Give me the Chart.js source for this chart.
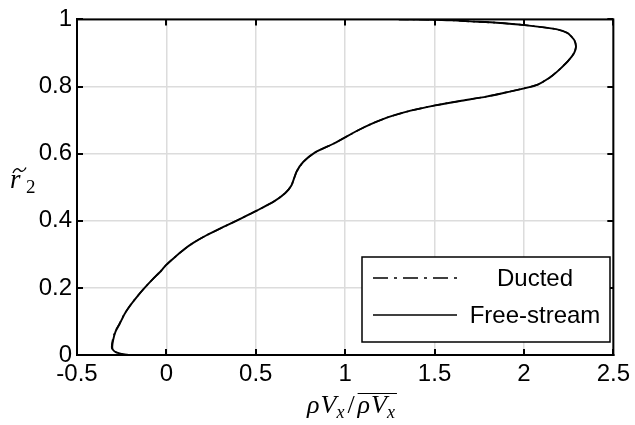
<!DOCTYPE html>
<html>
<head>
<meta charset="utf-8">
<script src="https://cdn.jsdelivr.net/npm/chart.js@4.4.0/dist/chart.umd.min.js"></script>
<style>
  html, body { margin: 0; padding: 0; background: #fff; }
</style>
</head>
<body>
<canvas id="fluxProfile" width="635" height="425"></canvas>
<script>
// normalised radius r2 (shared by both runs)
const radius = [
  0.000, 0.002, 0.008, 0.015, 0.024, 0.044, 0.069, 0.093, 0.123, 0.152,
  0.177, 0.200, 0.226, 0.251, 0.268, 0.290, 0.315, 0.334, 0.356, 0.383,
  0.408, 0.430, 0.457, 0.482, 0.506, 0.546, 0.575, 0.603, 0.631, 0.669,
  0.688, 0.708, 0.728, 0.744, 0.757, 0.770, 0.785, 0.796, 0.806, 0.826,
  0.846, 0.875, 0.900, 0.919, 0.939, 0.959, 0.971, 0.983, 0.990, 0.994,
  0.997, 0.999, 1.000
];
// rho*Vx / mean(rho*Vx)
const fluxDucted = [
  -0.200, -0.241, -0.282, -0.301, -0.306, -0.301, -0.288, -0.263, -0.234, -0.197,
  -0.159, -0.122, -0.076, -0.029, -0.002, 0.044, 0.100, 0.150, 0.222, 0.325,
  0.422, 0.505, 0.600, 0.664, 0.700, 0.728, 0.765, 0.830, 0.940, 1.070,
  1.144, 1.237, 1.366, 1.505, 1.643, 1.790, 1.921, 2.013, 2.078, 2.143,
  2.189, 2.245, 2.281, 2.291, 2.281, 2.245, 2.180, 2.004, 1.847, 1.700,
  1.600, 1.500, 1.300
];
const fluxFreeStream = [
  -0.200, -0.240, -0.280, -0.298, -0.303, -0.298, -0.285, -0.261, -0.233, -0.196,
  -0.159, -0.122, -0.076, -0.029, -0.002, 0.044, 0.100, 0.150, 0.222, 0.325,
  0.422, 0.505, 0.600, 0.664, 0.700, 0.728, 0.765, 0.830, 0.940, 1.070,
  1.144, 1.237, 1.366, 1.505, 1.643, 1.790, 1.921, 2.013, 2.078, 2.143,
  2.189, 2.245, 2.281, 2.291, 2.281, 2.245, 2.180, 2.004, 1.847, 1.700,
  1.600, 1.500, 1.300
];
const xTicks = [-0.5, 0, 0.5, 1, 1.5, 2, 2.5];
const xTickLabels = ['-0.5', '0', '0.5', '1', '1.5', '2', '2.5'];
const yTicks = [0, 0.2, 0.4, 0.6, 0.8, 1];
const yTickLabels = ['0', '0.2', '0.4', '0.6', '0.8', '1'];

const sansFont = "'Liberation Sans', Arial, sans-serif";
const serifFont = "'Liberation Serif', 'Times New Roman', serif";

function toPoints(xs) {
  return xs.map((v, i) => ({ x: v, y: radius[i] }));
}

// box round the axes plus inward tick marks on all four sides
const frameTicks = {
  id: 'frameTicks',
  afterDatasetsDraw(chart) {
    const { ctx, chartArea: a, scales: { x, y } } = chart;
    ctx.save();
    ctx.strokeStyle = '#000';
    ctx.lineWidth = 2;
    ctx.beginPath();
    xTicks.forEach(v => {
      const px = Math.round(x.getPixelForValue(v));
      ctx.moveTo(px, a.bottom); ctx.lineTo(px, a.bottom - 6);
      ctx.moveTo(px, a.top); ctx.lineTo(px, a.top + 6);
    });
    yTicks.forEach(v => {
      const py = Math.round(y.getPixelForValue(v));
      ctx.moveTo(a.left, py); ctx.lineTo(a.left + 6, py);
      ctx.moveTo(a.right, py); ctx.lineTo(a.right - 6, py);
    });
    ctx.stroke();
    ctx.strokeRect(a.left, a.top, a.right - a.left, a.bottom - a.top);
    ctx.restore();
  }
};

// legend box in the lower right corner
const boxLegend = {
  id: 'boxLegend',
  afterDraw(chart) {
    const { ctx } = chart;
    const left = 362, top = 257, right = 610, bottom = 342;
    ctx.save();
    ctx.fillStyle = '#fff';
    ctx.fillRect(left, top, right - left, bottom - top);
    ctx.strokeStyle = '#000';
    ctx.lineWidth = 1.5;
    ctx.strokeRect(left, top, right - left, bottom - top);

    const rows = [
      { label: 'Ducted', dash: [15, 6, 3, 6], y: 278 },
      { label: 'Free-stream', dash: [], y: 315 }
    ];
    rows.forEach(r => {
      ctx.setLineDash(r.dash);
      ctx.lineWidth = 1.6;
      ctx.beginPath();
      ctx.moveTo(373, r.y);
      ctx.lineTo(457, r.y);
      ctx.stroke();
      ctx.setLineDash([]);
      ctx.fillStyle = '#000';
      ctx.font = '24px ' + sansFont;
      ctx.textAlign = 'center';
      ctx.textBaseline = 'middle';
      ctx.fillText(r.label, 535, r.y + 1);
    });
    ctx.restore();
  }
};

// math-style axis titles
const axisTitles = {
  id: 'axisTitles',
  afterDraw(chart) {
    const { ctx } = chart;
    ctx.save();
    ctx.fillStyle = '#000';
    ctx.strokeStyle = '#000';
    ctx.textBaseline = 'alphabetic';
    ctx.textAlign = 'left';

    const big = 'italic 26px ' + serifFont;
    const sub = 'italic 18px ' + serifFont;
    const up = '26px ' + serifFont;
    const parts = [
      { t: '\u03C1', f: big, dy: 0, gap: 1 },
      { t: 'V', f: big, dy: 0, gap: 0 },
      { t: 'x', f: sub, dy: 5, gap: 3 },
      { t: '/', f: up, dy: 0, gap: 3 },
      { t: '\u03C1', f: big, dy: 0, gap: 1, bar: true },
      { t: 'V', f: big, dy: 0, gap: 0, bar: true },
      { t: 'x', f: sub, dy: 5, gap: 0, bar: true }
    ];
    let total = 0;
    parts.forEach(p => { ctx.font = p.f; p.w = ctx.measureText(p.t).width + p.gap; total += p.w; });
    let cx = 351 - total / 2;
    const base = 413;
    let barStart = null, barEnd = null;
    parts.forEach(p => {
      ctx.font = p.f;
      ctx.fillText(p.t, cx, base + p.dy);
      if (p.bar) {
        if (barStart === null) barStart = cx;
        barEnd = cx + p.w;
      }
      cx += p.w;
    });
    ctx.lineWidth = 1.2;
    ctx.beginPath();
    ctx.moveTo(barStart, 393.5);
    ctx.lineTo(barEnd + 2, 393.5);
    ctx.stroke();

    // r with a tilde, subscript 2
    ctx.font = 'italic 27px ' + serifFont;
    ctx.fillText('r', 10, 188);
    ctx.lineWidth = 1.3;
    ctx.beginPath();
    ctx.moveTo(13, 173);
    ctx.bezierCurveTo(15, 168, 18, 168, 19.5, 170);
    ctx.bezierCurveTo(21, 172, 24, 172, 26, 167.5);
    ctx.stroke();
    ctx.font = '19px ' + serifFont;
    ctx.fillText('2', 26, 193);
    ctx.restore();
  }
};

new Chart(document.getElementById('fluxProfile'), {
  type: 'scatter',
  data: {
    datasets: [
      {
        label: 'Ducted',
        data: toPoints(fluxDucted),
        showLine: true,
        borderColor: '#000',
        borderWidth: 1.6,
        borderDash: [10, 4, 2, 4],
        pointRadius: 0,
        tension: 0.2,
        fill: false
      },
      {
        label: 'Free-stream',
        data: toPoints(fluxFreeStream),
        showLine: true,
        borderColor: '#000',
        borderWidth: 1.9,
        pointRadius: 0,
        tension: 0.2,
        fill: false
      }
    ]
  },
  options: {
    responsive: false,
    animation: false,
    layout: { padding: { left: 0, right: 17, top: 16, bottom: 0 } },
    plugins: {
      legend: { display: false },
      tooltip: { enabled: false }
    },
    scales: {
      x: {
        type: 'linear',
        min: -0.5,
        max: 2.5,
        afterBuildTicks: s => { s.ticks = xTicks.map(v => ({ value: v })); },
        afterFit: s => { s.height = 70; },
        ticks: {
          color: '#000',
          font: { family: sansFont, size: 24 },
          padding: 5,
          maxRotation: 0,
          callback: (v, i) => xTickLabels[i]
        },
        grid: { color: '#dcdcdc', lineWidth: 1.5, drawTicks: false },
        border: { color: '#000', width: 2 }
      },
      y: {
        type: 'linear',
        min: 0,
        max: 1,
        afterBuildTicks: s => { s.ticks = yTicks.map(v => ({ value: v })); },
        afterFit: s => { s.width = 77; },
        ticks: {
          color: '#000',
          font: { family: sansFont, size: 24 },
          padding: 5,
          callback: (v, i) => yTickLabels[i]
        },
        grid: { color: '#dcdcdc', lineWidth: 1.5, drawTicks: false },
        border: { color: '#000', width: 2 }
      }
    }
  },
  plugins: [frameTicks, boxLegend, axisTitles]
});
</script>
</body>
</html>
